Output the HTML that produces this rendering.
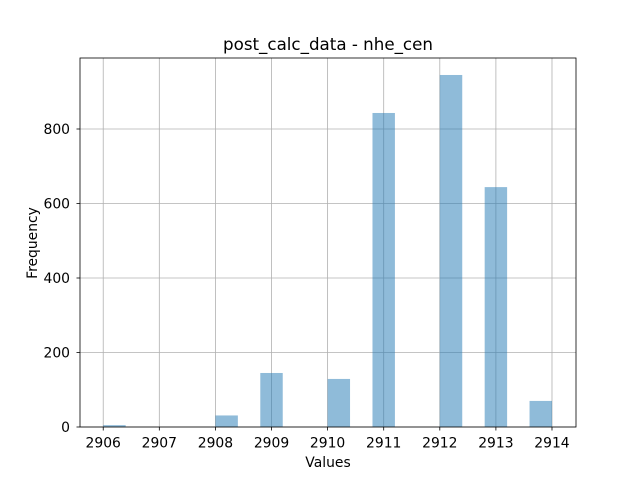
<!DOCTYPE html>
<html><head><meta charset="utf-8"><style>
body{margin:0;background:#fff;}
svg{font-family:"DejaVu Sans","Liberation Sans",sans-serif;}
</style></head><body>
<svg id="chart" width="640" height="480">
<rect width="640" height="480" fill="#fff"/>
<g id="grid"></g><g id="bars"></g><g id="axes"></g>
<text x="328" y="50" font-size="16.7" text-anchor="middle">post_calc_data - nhe_cen</text>
<text x="328" y="467" font-size="13.9" text-anchor="middle">Values</text>
<text x="37" y="243" font-size="13.9" text-anchor="middle" transform="rotate(-90 37 243)">Frequency</text>
</svg>
<script>
const binLefts=[2906.0,2908.0,2908.8,2910.0,2910.8,2912.0,2912.8,2913.6];
const counts=[5,31,145,129,843,945,644,70];
const binWidth=0.4;
const xTicks=[2906,2907,2908,2909,2910,2911,2912,2913,2914];
const yTicks=[0,200,400,600,800];
const L=80,R=576,T=58,B=427;
const xmin=2905.586,xmax=2914.428,ymin=0,ymax=990.6;
const xs=v=>L+(v-xmin)/(xmax-xmin)*(R-L);
const ys=v=>B-(v-ymin)/(ymax-ymin)*(B-T);
const NS='http://www.w3.org/2000/svg';
function mk(p,tag,a){const e=document.createElementNS(NS,tag);for(const k in a)e.setAttribute(k,a[k]);p.appendChild(e);return e;}
const grid=document.getElementById('grid'),bars=document.getElementById('bars'),axes=document.getElementById('axes');
xTicks.forEach(t=>{const x=xs(t);
const g=mk(grid,'line',{x1:x,x2:x,y1:T,y2:B,stroke:'#b0b0b0','stroke-width':0.8});


const tk=mk(axes,'line',{x1:x,x2:x,y1:B,y2:B+3.5,stroke:'#000','stroke-width':0.8});


const tx=mk(axes,'text',{x:x,y:B+20.5,'font-size':13.9,'text-anchor':'middle'});tx.textContent=t;


});
yTicks.forEach(t=>{const y=ys(t);
const g=mk(grid,'line',{x1:L,x2:R,y1:y,y2:y,stroke:'#b0b0b0','stroke-width':0.8});


const tk=mk(axes,'line',{x1:L-3.5,x2:L,y1:y,y2:y,stroke:'#000','stroke-width':0.8});


const tx=mk(axes,'text',{x:L-10,y:y+5,'font-size':13.9,'text-anchor':'end'});tx.textContent=t;


});
binLefts.forEach((b,i)=>{const x0=xs(b),x1=xs(b+binWidth),y=ys(counts[i]);
const r=mk(bars,'rect',{x:x0,y:y,width:x1-x0,height:B-y,fill:'#1f77b4','fill-opacity':0.5});


});
const fr=mk(axes,'rect',{x:L,y:T,width:R-L,height:B-T,fill:'none',stroke:'#000','stroke-width':0.8});


</script>
</body></html>
